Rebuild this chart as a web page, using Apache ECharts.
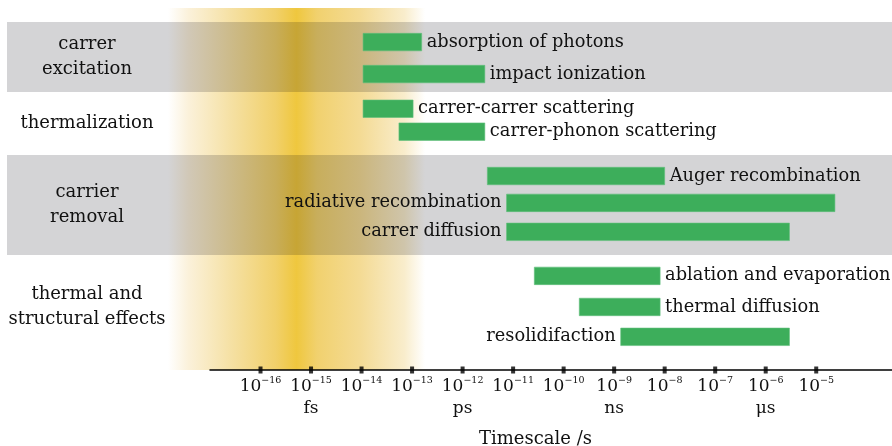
<!DOCTYPE html>
<html>
<head>
<meta charset="utf-8">
<script src="https://cdn.jsdelivr.net/npm/echarts@6/dist/echarts.min.js"></script>
<style>
html,body{margin:0;padding:0;background:#fff;}
#timescale{width:892px;height:446px;}
</style>
</head>
<body>
<div id="timescale"></div>
<script>
// processes: log10(time / s) for start and end, and the row they sit on
var process_name = ['absorption of photons', 'impact ionization', 'carrer-carrer scattering', 'carrer-phonon scattering',
    'Auger recombination', 'radiative recombination', 'carrer diffusion',
    'ablation and evaporation', 'thermal diffusion', 'resolidifaction'];
var process_start = [-13.97, -13.97, -13.97, -13.26, -11.51, -11.13, -11.13, -10.58, -9.69, -8.87];
var process_end = [-12.81, -11.56, -12.98, -11.56, -8.0, -4.63, -5.53, -8.09, -8.09, -5.53];
var process_row = [1.13, 2.19, 3.34, 4.10, 5.57, 6.46, 7.42, 8.88, 9.91, 10.90];
var label_side = ['right', 'right', 'right', 'right', 'right', 'left', 'left', 'right', 'right', 'left'];

// groups of processes (row ranges)
var group_name = ['carrer\nexcitation', 'thermalization', 'carrier\nremoval', 'thermal and\nstructural effects'];
var group_from = [0.46, 2.78, 4.87, 8.19];
var group_to = [2.78, 4.87, 8.19, 11.6];
var group_shaded = [true, false, true, false];

// axis ticks (exponents) and unit names under some of them
var tick_exp = [-16, -15, -14, -13, -12, -11, -10, -9, -8, -7, -6, -5];
var tick_unit = {'-15': 'fs', '-12': 'ps', '-9': 'ns', '-6': 'μs'};

// femtosecond window, log10 s
var fs_window = [-17.83, -12.75];

var serif = '"DejaVu Serif", "Liberation Serif", serif';
var band_color = '#d4d4d6';
var window_stops = [
    [0, '#ffffff'], [0.08, '#fbf1da'], [0.25, '#f5e0a2'], [0.42, '#f1d06a'], [0.5, '#efc73e'],
    [0.58, '#f1d16e'], [0.75, '#f4db95'], [0.92, '#f9edcc'], [1, '#ffffff']
];

// colour seen through the gray band (multiply)
function multiply(c1, c2) {
    var out = '#';
    for (var k = 1; k < 7; k += 2) {
        var v = Math.round(parseInt(c1.substr(k, 2), 16) * parseInt(c2.substr(k, 2), 16) / 255);
        out += (v < 16 ? '0' : '') + v.toString(16);
    }
    return out;
}

function windowGradient(tint) {
    var stops = [];
    for (var k = 0; k < window_stops.length; k++) {
        stops.push({offset: window_stops[k][0], color: tint ? multiply(window_stops[k][1], tint) : window_stops[k][1]});
    }
    return new echarts.graphic.LinearGradient(0, 0, 1, 0, stops);
}

function bandEdges(g, api) {
    return [Math.round(api.coord([-17, group_from[g]])[1]), Math.round(api.coord([-17, group_to[g]])[1])];
}

function renderGroup(params, api) {
    var i = params.dataIndex;
    var edges = bandEdges(i, api);
    var children = [];
    if (group_shaded[i]) {
        children.push({
            type: 'rect',
            shape: {x: 7, y: edges[0], width: api.getWidth() - 7, height: edges[1] - edges[0]},
            style: {fill: band_color}
        });
    }
    children.push({
        type: 'text',
        style: {
            text: group_name[i], x: 87, y: (edges[0] + edges[1]) / 2,
            align: 'center', verticalAlign: 'middle',
            fontFamily: serif, fontSize: 18, lineHeight: 25, fill: '#111'
        }
    });
    return {type: 'group', children: children};
}

function renderWindow(params, api) {
    var p0 = api.coord([fs_window[0], 0]);
    var p1 = api.coord([fs_window[1], 12]);
    var x0 = Math.round(p0[0]);
    var w = Math.round(p1[0]) - x0;
    var children = [{
        type: 'rect',
        shape: {x: x0, y: p0[1], width: w, height: p1[1] - p0[1]},
        style: {fill: windowGradient(null)}
    }];
    for (var g = 0; g < group_name.length; g++) {
        if (!group_shaded[g]) continue;
        var edges = bandEdges(g, api);
        children.push({
            type: 'rect',
            shape: {x: x0, y: edges[0], width: w, height: edges[1] - edges[0]},
            style: {fill: windowGradient(band_color)}
        });
    }
    return {type: 'group', children: children};
}

function renderProcess(params, api) {
    var i = params.dataIndex;
    var s = api.coord([api.value(0), api.value(2)]);
    var e = api.coord([api.value(1), api.value(2)]);
    var h = api.size([0, 0.58])[1];
    var right = label_side[i] == 'right';
    return {
        type: 'group',
        children: [{
            type: 'rect',
            shape: {x: s[0], y: s[1] - h / 2, width: e[0] - s[0], height: h},
            style: {fill: '#3dae5b', stroke: '#62c07c', lineWidth: 0.6}
        }, {
            type: 'text',
            style: {
                text: process_name[i], x: right ? e[0] + 5 : s[0] - 5, y: s[1],
                align: right ? 'left' : 'right', verticalAlign: 'middle',
                fontFamily: serif, fontSize: 17.8, fill: '#111'
            }
        }]
    };
}

var processData = [];
for (var i = 0; i < process_name.length; i++) {
    processData.push([process_start[i], process_end[i], process_row[i]]);
}
var groupData = [];
for (var g = 0; g < group_name.length; g++) {
    groupData.push([-17, group_from[g]]);
}
var tickData = [];
for (var t = 0; t < tick_exp.length; t++) {
    tickData.push([tick_exp[t], 12]);
}

var myChart = echarts.init(document.getElementById('timescale'));
myChart.setOption({
    animation: false,
    backgroundColor: '#fff',
    grid: {left: 210, right: 0, top: 8, bottom: 76, outerBoundsMode: 'none'},
    xAxis: {
        type: 'value',
        position: 'bottom',
        z: 10,
        min: -17,
        max: -3.5,
        interval: 1,
        splitLine: {show: false},
        axisLine: {onZero: false, lineStyle: {color: '#000', width: 1.5}},
        axisTick: {show: false},
        axisLabel: {
            customValues: tick_exp,
            margin: 6,
            formatter: function (v) {
                if (tick_exp.indexOf(v) < 0) return '';
                var s = '{n|10}{s|\u2212' + Math.abs(v) + '}';
                if (tick_unit[v]) s += '\n{u|' + tick_unit[v] + '}';
                return s;
            },
            rich: {
                n: {fontFamily: serif, fontSize: 17, color: '#111', lineHeight: 22},
                s: {fontFamily: serif, fontSize: 9.5, color: '#111', verticalAlign: 'top', lineHeight: 12},
                u: {fontFamily: serif, fontSize: 17, color: '#111', lineHeight: 22}
            }
        },
        name: 'Timescale /s',
        nameLocation: 'middle',
        nameGap: 60,
        nameTextStyle: {fontFamily: serif, fontSize: 18, color: '#111', padding: [0, 31, 0, 0]}
    },
    yAxis: {type: 'value', min: 0, max: 12, inverse: true, show: false},
    series: [{
        type: 'custom',
        z: 1,
        clip: false,
        renderItem: renderGroup,
        data: groupData
    }, {
        type: 'custom',
        z: 2,
        clip: false,
        renderItem: renderWindow,
        data: [[fs_window[0], 0]]
    }, {
        type: 'custom',
        z: 3,
        clip: false,
        renderItem: renderProcess,
        encode: {x: [0, 1], y: 2},
        data: processData
    }, {
        type: 'scatter',
        z: 11,
        clip: false,
        symbol: 'rect',
        symbolSize: [4, 7],
        itemStyle: {color: '#000'},
        silent: true,
        data: tickData
    }]
});
</script>
</body>
</html>
